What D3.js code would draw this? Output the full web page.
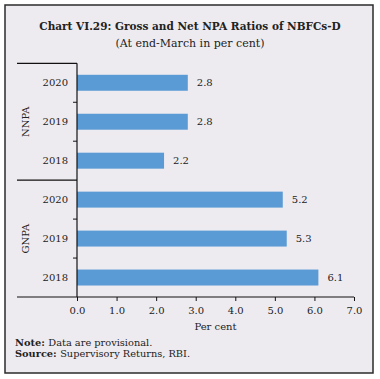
<!DOCTYPE html>
<html><head><meta charset="utf-8">
<script src="https://cdn.jsdelivr.net/npm/d3@7"></script>
<style>
html,body{margin:0;padding:0;background:#fff;}
svg{display:block;font-family:"DejaVu Serif",serif;}
</style></head>
<body>
<script>
const groups = ["NNPA", "GNPA"];
const years = ["2020", "2019", "2018"];
const nnpaValues = [2.8, 2.8, 2.2];
const gnpaValues = [5.2, 5.3, 6.1];
const xTicks = [0, 1, 2, 3, 4, 5, 6, 7];

(function () {
const rows = [];
groups.forEach((g, gi) => {
  const vals = gi === 0 ? nnpaValues : gnpaValues;
  years.forEach((y, i) => rows.push({group: g, year: y, value: vals[i], key: g + "-" + y}));
});

const W = 380, H = 379;
const svg = d3.select("body").append("svg").attr("width", W).attr("height", H);

svg.append("rect").attr("x", 5).attr("y", 5).attr("width", 368).attr("height", 368)
  .attr("fill", "#eeebf0").attr("stroke", "#2b2b2b").attr("stroke-width", 1.5);

svg.append("text").attr("x", 190).attr("y", 30).attr("text-anchor", "middle")
  .attr("font-weight", "bold").attr("font-size", 10.5).attr("fill", "#222")
  .text("Chart VI.29: Gross and Net NPA Ratios of NBFCs-D");
svg.append("text").attr("x", 190).attr("y", 47).attr("text-anchor", "middle")
  .attr("font-size", 11).attr("fill", "#222")
  .text("(At end-March in per cent)");

const pL = 77, pR = 354, pT = 63.3, pB = 297;
const x = d3.scaleLinear().domain([0, 7]).range([pL, pR]);
const y = d3.scaleBand().domain(rows.map(d => d.key)).range([pT, pB]).paddingInner(0.59).paddingOuter(0.295);

const g = svg.append("g");
g.selectAll("rect.bar").data(rows).enter().append("rect")
  .attr("class", "bar")
  .attr("x", x(0)).attr("y", d => y(d.key))
  .attr("width", d => x(d.value) - x(0)).attr("height", y.bandwidth())
  .attr("fill", "#5b9bd5");

g.selectAll("text.val").data(rows).enter().append("text")
  .attr("x", d => x(d.value) + 9).attr("y", d => y(d.key) + y.bandwidth() / 2)
  .attr("dy", "0.35em").attr("font-size", 10).attr("fill", "#222")
  .text(d => d.value.toFixed(1));

g.selectAll("text.yr").data(rows).enter().append("text")
  .attr("x", 68).attr("y", d => y(d.key) + y.bandwidth() / 2)
  .attr("dy", "0.35em").attr("text-anchor", "end").attr("font-size", 10).attr("fill", "#222")
  .text(d => d.year);

const xa = svg.append("g").attr("transform", `translate(0,${pB})`)
  .call(d3.axisBottom(x).tickValues(xTicks).tickSize(4).tickPadding(6).tickFormat(d3.format(".1f")));
xa.select(".domain").remove();
xa.selectAll("line").attr("stroke", "#111");
xa.selectAll("text").attr("font-family", "DejaVu Serif").attr("font-size", 10).attr("fill", "#222");

svg.append("line").attr("x1", 17).attr("x2", pR).attr("y1", pB).attr("y2", pB)
  .attr("stroke", "#111").attr("stroke-width", 1.2);
svg.append("line").attr("x1", pL).attr("x2", pL).attr("y1", pT).attr("y2", pB)
  .attr("stroke", "#111").attr("stroke-width", 1.2);

const yb = d3.scaleLinear().domain([0, rows.length]).range([pT, pB]);
[0, 3].forEach(i => {
  svg.append("line").attr("x1", 17).attr("x2", pL).attr("y1", yb(i)).attr("y2", yb(i))
    .attr("stroke", "#111").attr("stroke-width", 1.2);
});
[1, 2, 4, 5].forEach(i => {
  svg.append("line").attr("x1", pL - 4).attr("x2", pL).attr("y1", yb(i)).attr("y2", yb(i))
    .attr("stroke", "#111").attr("stroke-width", 1);
});

groups.forEach((gname, gi) => {
  const cy = (yb(gi * 3) + yb(gi * 3 + 3)) / 2;
  svg.append("text").attr("transform", `translate(29,${cy}) rotate(-90)`)
    .attr("text-anchor", "middle").attr("font-size", 10).attr("fill", "#222")
    .text(gname);
});

svg.append("text").attr("x", (pL + pR) / 2).attr("y", 330).attr("text-anchor", "middle")
  .attr("font-size", 10).attr("fill", "#222").text("Per cent");

const n1 = svg.append("text").attr("x", 15).attr("y", 346).attr("font-size", 9.8).attr("fill", "#222");
n1.append("tspan").attr("font-weight", "bold").text("Note: ");
n1.append("tspan").text("Data are provisional.");
const n2 = svg.append("text").attr("x", 15).attr("y", 357).attr("font-size", 9.8).attr("fill", "#222");
n2.append("tspan").attr("font-weight", "bold").text("Source: ");
n2.append("tspan").text("Supervisory Returns, RBI.");
})();
</script>
</body></html>
